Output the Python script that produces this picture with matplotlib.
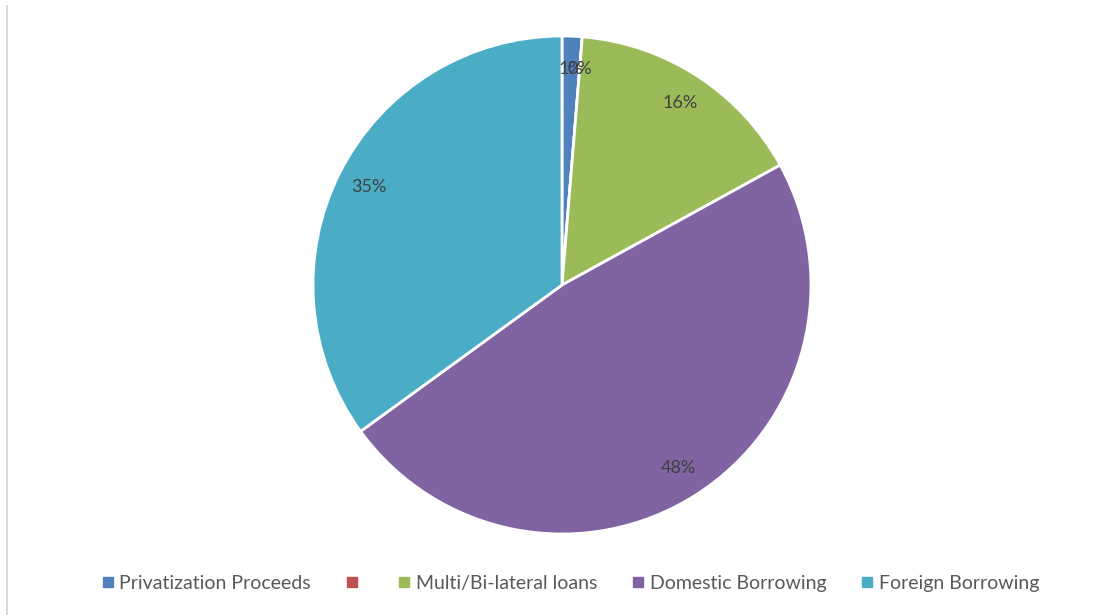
import matplotlib.pyplot as plt
from matplotlib.lines import Line2D

# financing sources, share of total (%)
labels = ['Privatization Proceeds', '', 'Multi/Bi-lateral loans',
          'Domestic Borrowing', 'Foreign Borrowing']
shares = [1.3, 0, 15.7, 48.0, 35.0]
colors = ['#4F81BD', '#C0504D', '#9BBB59', '#8064A2', '#4BACC6']

plt.rcParams['font.family'] = ['Lato', 'DejaVu Sans']

fig = plt.figure(figsize=(11.06, 6.15), dpi=100)
ax = fig.add_axes([313 / 1106, 81 / 615, 498 / 1106, 498 / 615])

wedges, texts, autotexts = ax.pie(
    shares, colors=colors, startangle=90, counterclock=False,
    autopct=lambda p: f'{p:.0f}%', pctdistance=0.87,
    wedgeprops=dict(edgecolor='white', linewidth=2),
    textprops=dict(color='#404040', fontsize=13))
ax.set_xlim(-1, 1)
ax.set_ylim(-1, 1)
ax.set_aspect('equal')

handles = [Line2D([], [], marker='s', ls='', markersize=6.5,
                  markerfacecolor=c, markeredgecolor=c) for c in colors]
fig.legend(handles, labels, loc='center', bbox_to_anchor=(0.514, 0.052),
           ncol=5, frameon=False, handletextpad=0.1, columnspacing=1.6,
           handlelength=1.0, fontsize=14, labelcolor='#595959')

# left edge of the chart frame
fig.add_artist(Line2D([7 / 1106, 7 / 1106], [0, 1 - 6 / 615],
                      transform=fig.transFigure, color='#D9D9D9', lw=1.5))

fig.savefig('out.png', dpi=100)
